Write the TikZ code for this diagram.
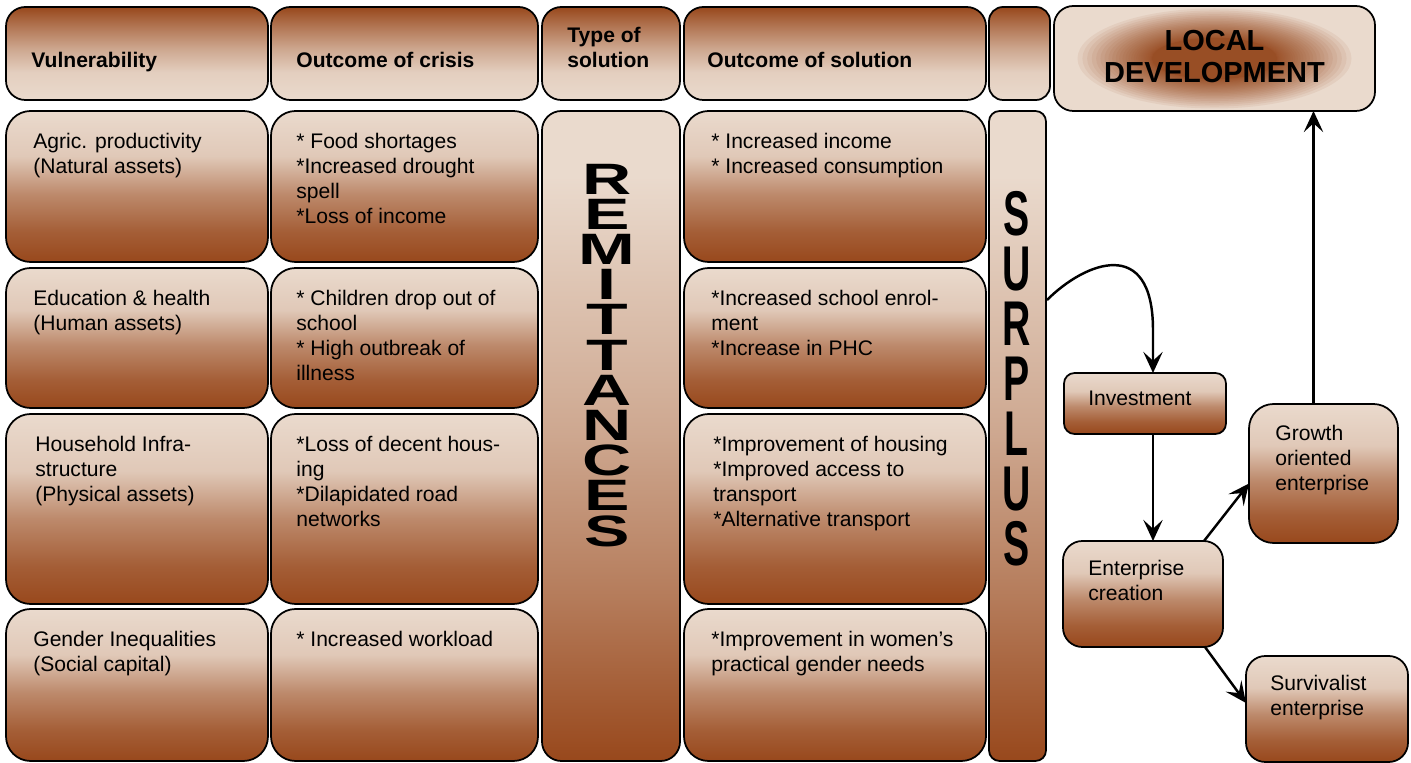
\documentclass[tikz,border=0pt]{standalone}
\usepackage{fontspec}
\setmainfont{Liberation Sans}
\usepackage{graphicx}
\usetikzlibrary{arrows.meta,fit}

\definecolor{sand}{RGB}{234,218,205}
\definecolor{rust}{RGB}{152,72,28}
\colorlet{rustA}{rust!85!sand}
\colorlet{rustB}{rust!65!sand}
\colorlet{rustC}{rust!55!sand}
\colorlet{rustD}{rust!35!sand}
\colorlet{rustE}{rust!70!sand}
\colorlet{rustF}{rust!12!sand}
\colorlet{rustG}{rust!8!sand}

\pgfdeclareverticalshading{cellfade}{100bp}{color(0bp)=(rust); color(25bp)=(rust); color(35bp)=(rustA); color(47.5bp)=(rustC); color(60bp)=(rustF); color(75bp)=(sand); color(100bp)=(sand)}
\pgfdeclareverticalshading{headfade}{100bp}{color(0bp)=(sand); color(25bp)=(sand); color(40bp)=(rustG); color(52.5bp)=(rustD); color(65bp)=(rustE); color(75bp)=(rust); color(100bp)=(rust)}
\pgfdeclareverticalshading{colfade}{100bp}{color(0bp)=(rust); color(25bp)=(rust); color(37.5bp)=(rustB); color(50bp)=(rustD); color(70bp)=(sand); color(100bp)=(sand)}

\tikzset{
  box/.style={draw=black, line width=1pt, inner sep=0pt, outer sep=0pt},
  cell/.style={box, shade, rounded corners=14pt, shading=cellfade},
  head/.style={box, shade, rounded corners=11pt, shading=headfade},
  column/.style={box, shade, rounded corners=11pt, shading=colfade},
  txt/.style={anchor=north west, inner sep=0pt, align=left, font=\fontsize{12}{14.2}\selectfont},
  headtxt/.style={txt, font=\fontsize{12}{14.2}\selectfont\bfseries},
  remitletter/.style={inner sep=0pt, font=\fontsize{25}{25}\selectfont\bfseries},
  surplusletter/.style={inner sep=0pt, font=\fontsize{36}{36}\selectfont\bfseries},
  arr/.style={line width=1.4pt, -{Stealth[length=12pt,width=11pt,inset=5pt]}},
}

\begin{document}
\begin{tikzpicture}[x=0.02cm, y=-0.02cm]
\useasboundingbox (0,0) rectangle (1411,763);

% header row
\node[head, fit={(6,7) (268,100)}] (hvul) {};
\node[head, fit={(271,7) (538,100)}] (hcri) {};
\node[head, fit={(542,7) (680,100)}] (htype) {};
\node[head, fit={(684,7) (986,100)}] (hsol) {};
\node[head, rounded corners=8pt, fit={(989,7) (1050,100)}] (hsur) {};
\node[box, fill=sand, rounded corners=11pt, fit={(1054,6) (1375,111)}] (local) {};
\foreach \k in {0,...,30}
  \fill[rust, opacity=0.08] (local.center) ellipse [x radius={62+75*(1-\k/30)^2}, y radius={20+30*(1-\k/30)^2}];

\node[headtxt] (hvult) at ([shift={(25,45)}]hvul.north west) {Vulnerability};
\node[headtxt] (hcrit) at ([shift={(25,45)}]hcri.north west) {Outcome of crisis};
\node[headtxt] (htypet) at ([shift={(25,20)}]htype.north west) {Type of\\solution};
\node[headtxt] (hsolt) at ([shift={(23,45)}]hsol.north west) {Outcome of solution};
\node[inner sep=0pt, align=center, font=\fontsize{16.5}{18.7}\selectfont\bfseries] (localt) at ([shift={(0,-2)}]local.center) {LOCAL\\DEVELOPMENT};

% table cells
\node[cell, fit={(6,111) (268,262)}] (v1) {};
\node[cell, fit={(6,268) (268,408)}] (v2) {};
\node[cell, fit={(6,414) (268,604)}] (v3) {};
\node[cell, fit={(6,609) (268,761)}] (v4) {};
\node[cell, fit={(271,111) (538,262)}] (o1) {};
\node[cell, fit={(271,268) (538,408)}] (o2) {};
\node[cell, fit={(271,414) (538,604)}] (o3) {};
\node[cell, fit={(271,609) (538,761)}] (o4) {};
\node[cell, fit={(684,111) (986,262)}] (s1) {};
\node[cell, fit={(684,268) (986,408)}] (s2) {};
\node[cell, fit={(684,414) (986,604)}] (s3) {};
\node[cell, fit={(684,609) (986,761)}] (s4) {};

\node[txt] (v1t) at ([shift={(27,22)}]v1.north west) {Agric. productivity\\(Natural assets)};
\node[txt] (v2t) at ([shift={(27,22)}]v2.north west) {Education \& health\\(Human assets)};
\node[txt] (v3t) at ([shift={(29,22)}]v3.north west) {Household Infra-\\structure\\(Physical assets)};
\node[txt] (v4t) at ([shift={(27,22)}]v4.north west) {Gender Inequalities\\(Social capital)};
\node[txt] (o1t) at ([shift={(25,22)}]o1.north west) {* Food shortages\\*Increased drought\\spell\\*Loss of income};
\node[txt] (o2t) at ([shift={(25,22)}]o2.north west) {* Children drop out of\\school\\* High outbreak of\\illness};
\node[txt] (o3t) at ([shift={(25,22)}]o3.north west) {*Loss of decent hous-\\ing\\*Dilapidated road\\networks};
\node[txt] (o4t) at ([shift={(25,22)}]o4.north west) {* Increased workload};
\node[txt] (s1t) at ([shift={(27,22)}]s1.north west) {* Increased income\\* Increased consumption};
\node[txt] (s2t) at ([shift={(27,22)}]s2.north west) {*Increased school enrol-\\ment\\*Increase in PHC};
\node[txt] (s3t) at ([shift={(29,22)}]s3.north west) {*Improvement of housing\\*Improved access to\\transport\\*Alternative transport};
\node[txt] (s4t) at ([shift={(27,22)}]s4.north west) {*Improvement in women’s\\practical gender needs};

% remittances and surplus columns
\node[column, fit={(542,111) (680,761)}] (remit) {};
\node[column, rounded corners=6pt, fit={(989,111) (1046,761)}] (surplus) {};
\foreach \ch [count=\i] in {R,E,M,I,T,T,A,N,C,E,S}
  \node[remitletter] (rl\i) at ([shift={(-4,{68+35.2*(\i-1)})}]remit.north) {\scalebox{1.55}[1]{\ch}};
\foreach \ch [count=\i] in {S,U,R,P,L,U,S}
  \node[surplusletter] (sl\i) at ([shift={(-1,{103+55*(\i-1)})}]surplus.north) {\scalebox{0.62}[1]{\ch}};

% local development chain
\node[cell, rounded corners=6pt, fit={(1064,373) (1226,434)}] (inv) {};
\node[cell, rounded corners=11pt, fit={(1063,541) (1223,647)}] (ent) {};
\node[cell, fit={(1249,404) (1398,543)}] (grow) {};
\node[cell, rounded corners=11pt, fit={(1246,656) (1408,762)}] (surv) {};

\node[txt] (invt) at ([shift={(24,18)}]inv.north west) {Investment};
\node[txt] (entt) at ([shift={(25,19)}]ent.north west) {Enterprise\\creation};
\node[txt] (growt) at ([shift={(26,21)}]grow.north west) {Growth\\oriented\\enterprise};
\node[txt] (survt) at ([shift={(24,19)}]surv.north west) {Survivalist\\enterprise};

\draw[arr] ([shift={(1,189)}]surplus.north east) .. controls (1085,262) and (1153,235) .. (1153,330) -- ([shift={(8,0)}]inv.north);
\draw[arr] ([shift={(8,0)}]inv.south) -- ([shift={(10,0)}]ent.north);
\draw[arr] ([shift={(-19,0)}]ent.north east) -- ([shift={(0,10)}]grow.west);
\draw[arr] ([shift={(-18,0)}]ent.south east) -- ([shift={(0,-6)}]surv.west);
\draw[arr] ([shift={(-10,0)}]grow.north) -- ([shift={(-10,0)}]grow.north |- local.south);
\end{tikzpicture}
\end{document}
